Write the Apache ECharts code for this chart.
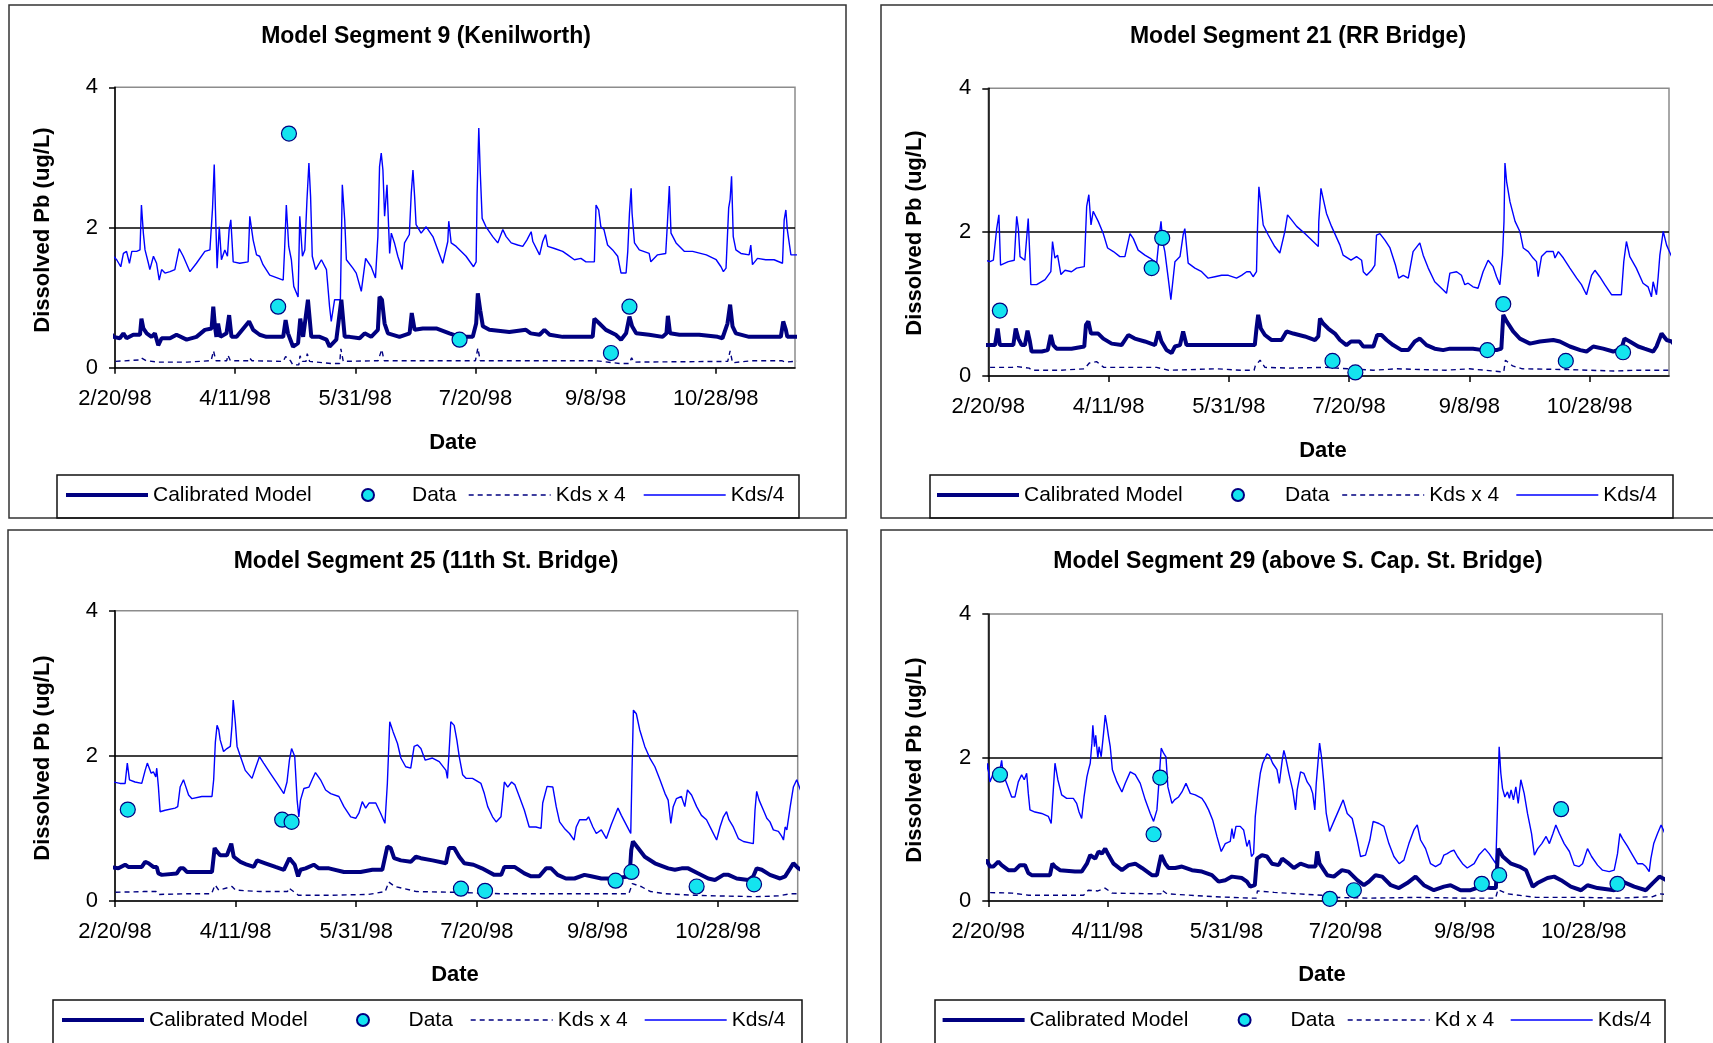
<!DOCTYPE html>
<html><head><meta charset="utf-8">
<script src="https://cdn.jsdelivr.net/npm/echarts@6/dist/echarts.min.js"></script>
<style>html,body{margin:0;padding:0;background:#fff}#c{width:1713px;height:1043px}</style>
</head><body><div id="c"></div>
<script>
// ---- tick labels / categories ----
const xTickDays = [0, 50, 100, 150, 200, 250];            // days after 2/20/98
const xTickLabels = ['2/20/98', '4/11/98', '5/31/98', '7/20/98', '9/8/98', '10/28/98'];
const titles = ['Model Segment 9 (Kenilworth)', 'Model Segment 21 (RR Bridge)', 'Model Segment 25 (11th St. Bridge)', 'Model Segment 29 (above S. Cap. St. Bridge)'];
const legendNames = ['Calibrated Model', 'Data', 'Kds x 4', 'Kds/4'];
const legendNames29 = ['Calibrated Model', 'Data', 'Kd x 4', 'Kds/4'];

// ---- Segment 9 (Kenilworth): [day, ug/L] ----
const seg9KdsDiv4 = [[-3.5,1.56],[-2,1.78],[-1.4,1.94],[-0.7,1.59],[0.7,1.54],[2.4,1.44],[3.5,1.63],[4.8,1.66],[6,1.49],[7,1.66],[9,1.66],[10.4,1.68],[11,2.32],[11.8,1.92],[12.5,1.68],[13.9,1.49],[14.5,1.40],[16,1.59],[17.3,1.49],[18.4,1.25],[19.4,1.40],[20.8,1.35],[22.9,1.37],[24.9,1.40],[26.7,1.70],[28.4,1.59],[31.2,1.37],[33.9,1.49],[37.4,1.66],[39.5,1.68],[40.6,2.28],[41.3,2.90],[41.8,2.25],[42.5,1.42],[43.4,2.01],[44.3,1.54],[45.7,1.68],[46.8,1.59],[47.5,1.97],[48.2,2.11],[49.2,1.51],[51.9,1.49],[55.4,1.51],[56.1,2.16],[57.5,1.82],[58.9,1.61],[60.2,1.59],[61.6,1.47],[64.4,1.32],[70,1.25],[70.6,1.70],[71.3,2.32],[72.3,1.73],[73.4,1.54],[74.4,1.16],[76.2,1.01],[76.9,2.16],[78,1.59],[79,1.68],[79.9,2.40],[80.7,2.92],[81.4,2.44],[82.1,1.59],[83.5,1.40],[85.9,1.54],[88,1.40],[89.3,0.87],[90,0.66],[91.4,0.97],[93.8,0.97],[94.6,2.61],[95.6,2.11],[96.3,1.54],[99,1.42],[100.4,1.35],[102.5,1.09],[104.3,1.56],[106.6,1.44],[108.4,1.28],[109.4,1.87],[110.1,2.87],[110.8,3.06],[111.5,2.82],[112.2,2.16],[113.2,2.61],[114.3,1.63],[115,1.92],[116.3,1.78],[117.7,1.59],[119.5,1.40],[120.5,1.78],[122.5,1.90],[123.3,2.49],[124,2.82],[124.7,2.44],[125.3,2.04],[127.4,1.92],[129.5,2.01],[132.3,1.87],[136.4,1.49],[138.5,1.80],[138.9,2.09],[139.9,1.78],[142,1.73],[146.1,1.59],[149.2,1.44],[150.3,1.51],[150.7,2.47],[151.4,3.42],[152,2.80],[152.8,2.13],[154.4,2.01],[157.2,1.87],[159.3,1.78],[161.4,1.97],[162.8,1.87],[164.9,1.78],[167.6,1.75],[169.7,1.73],[171.4,1.82],[173.2,1.94],[173.9,1.80],[176.7,1.61],[178,1.80],[179.2,1.90],[180.1,1.73],[182.9,1.70],[186.3,1.66],[188.4,1.61],[191.2,1.54],[193.9,1.56],[196,1.51],[199.5,1.51],[200.2,2.32],[201.3,2.25],[202.2,2.01],[203.5,1.97],[205,1.75],[207.1,1.68],[209.2,1.59],[210.6,1.35],[212.7,1.35],[213.4,1.66],[214.1,2.20],[214.8,2.56],[215.2,2.20],[216.2,1.78],[218.2,1.68],[222.3,1.63],[223,1.51],[225.8,1.61],[229.2,1.63],[229.9,2.06],[230.7,2.59],[231.4,1.92],[233.5,1.78],[236.9,1.66],[240.4,1.66],[246.1,1.61],[250.2,1.54],[252.2,1.44],[253.2,1.37],[254.3,1.42],[255.4,2.28],[256,2.40],[256.6,2.73],[257.3,1.87],[258.4,1.68],[260.5,1.63],[263.9,1.61],[264.6,1.75],[265.3,1.47],[267.4,1.56],[270.8,1.54],[274.3,1.54],[277.8,1.49],[278.5,2.11],[279.2,2.25],[279.8,1.97],[281.3,1.61],[286.5,1.61]];
const seg9Model = [[-3.5,0.44],[-2,0.51],[-0.7,0.44],[2,0.42],[3.5,0.49],[4.8,0.42],[7.6,0.47],[10.4,0.47],[11,0.70],[11.8,0.56],[13.2,0.49],[15.2,0.44],[16.6,0.49],[18,0.32],[19.4,0.42],[22.9,0.42],[25.6,0.47],[29.8,0.40],[33.9,0.44],[37.4,0.54],[40.2,0.56],[40.9,0.87],[41.6,0.59],[42.2,0.44],[42.9,0.63],[43.9,0.44],[46.4,0.49],[47.5,0.75],[48.5,0.44],[50.6,0.44],[55.8,0.66],[57.5,0.54],[60.2,0.47],[63,0.44],[70,0.44],[71,0.68],[72,0.49],[74.1,0.30],[76.2,0.35],[77.1,0.70],[78.3,0.44],[80.3,0.97],[81.7,0.44],[85.2,0.44],[88,0.40],[89.3,0.30],[92.1,0.40],[94.2,0.97],[95.6,0.44],[97.6,0.44],[101.8,0.42],[103.9,0.49],[106.6,0.44],[109.4,0.54],[110.1,1.01],[111.1,0.97],[112.2,0.63],[113.6,0.49],[118.4,0.44],[122.6,0.49],[123.5,0.78],[124.7,0.54],[128.1,0.56],[133.7,0.56],[139.2,0.49],[143.4,0.44],[148.9,0.44],[150.3,0.63],[151,1.06],[152,0.82],[153.1,0.59],[155.8,0.54],[164.1,0.51],[171,0.54],[173,0.49],[176.7,0.47],[178.7,0.54],[180.9,0.47],[186.3,0.44],[198.8,0.44],[199.5,0.70],[201.6,0.63],[204.3,0.54],[208.4,0.47],[210.6,0.40],[212.7,0.49],[214.1,0.73],[215.2,0.59],[216.9,0.49],[222.3,0.47],[227.9,0.44],[229.5,0.49],[230.1,0.74],[231,0.49],[234.9,0.47],[243.1,0.47],[250.8,0.44],[252.8,0.42],[254.9,0.63],[256,0.90],[257,0.59],[258.4,0.49],[263.9,0.44],[277.1,0.44],[278.1,0.66],[279.2,0.54],[279.8,0.44],[286.5,0.44]];
const seg9KdsX4 = [[-3.5,0.10],[0,0.09],[10,0.11],[11,0.14],[13,0.10],[18,0.08],[30,0.08],[40,0.10],[41,0.24],[42,0.10],[46.5,0.10],[47,0.18],[48,0.10],[55.5,0.10],[56,0.14],[57,0.10],[70,0.09],[71,0.16],[73,0.10],[74,0.04],[76.5,0.04],[77,0.17],[78,0.09],[79.5,0.09],[80,0.20],[81,0.09],[90,0.06],[93.5,0.06],[94,0.27],[95,0.09],[109.5,0.10],[110,0.12],[111,0.26],[112,0.10],[150,0.10],[151,0.28],[152,0.10],[200,0.10],[210,0.06],[214,0.06],[215,0.14],[216,0.08],[255,0.09],[256,0.24],[257,0.07],[265,0.10],[277.5,0.10],[278,0.12],[279,0.08],[286.5,0.10]];
const seg9Data = [[67.9,0.87],[72.4,3.34],[143.4,0.40],[206.4,0.21],[214.1,0.87]];

// ---- Segment 21 (RR Bridge) ----
const seg21KdsDiv4 = [[-3,1.65],[-2.1,1.98],[-1.4,1.61],[0.7,1.59],[2.1,1.61],[3.5,2.05],[4.4,2.24],[5.1,1.54],[8.3,1.59],[10.8,1.61],[11.8,2.22],[12.5,2.05],[13.2,1.66],[15.2,1.61],[16.6,2.19],[17.3,1.64],[17.7,1.27],[20.1,1.27],[23.6,1.34],[26,1.45],[26.7,1.87],[27.7,1.64],[28.8,1.68],[30.2,1.41],[31.9,1.47],[34.6,1.45],[36.7,1.50],[39.9,1.52],[40.9,2.36],[41.8,2.52],[42.7,2.10],[43.6,2.29],[45.7,2.15],[47.8,1.98],[49.6,1.78],[52,1.73],[54.7,1.66],[56.8,1.66],[58.9,1.98],[60.3,1.91],[62.3,1.75],[65.1,1.68],[67.2,1.64],[70,1.57],[71.3,2.01],[71.8,2.15],[72.5,1.87],[73.4,1.73],[74.8,1.36],[75.9,1.06],[77.6,1.59],[79.7,1.66],[81,1.96],[81.7,2.05],[83.1,1.57],[85.9,1.50],[88.7,1.45],[91.4,1.36],[94.2,1.38],[97,1.40],[99.8,1.40],[103.2,1.36],[105.3,1.40],[107.4,1.45],[108.8,1.45],[110.1,1.38],[111.5,1.45],[111.9,2.03],[112.5,2.63],[113.3,2.40],[114.3,2.10],[116.4,1.96],[119.1,1.80],[121.2,1.71],[123.3,2.01],[124.4,2.24],[126.1,2.17],[128.2,2.08],[131.6,1.98],[134.4,1.89],[137.2,1.80],[137.4,2.15],[138.3,2.61],[139.2,2.47],[140.6,2.26],[142.7,2.08],[146.2,1.82],[147.5,1.68],[150.8,1.61],[153.1,1.66],[155.2,1.61],[155.9,1.45],[157.3,1.40],[159.3,1.47],[160.7,1.54],[161.4,1.96],[162.8,1.98],[164.9,1.89],[167,1.78],[169.3,1.54],[170.6,1.36],[172.5,1.40],[174.6,1.36],[176.6,1.73],[179.4,1.85],[180.8,1.68],[182.9,1.50],[185.6,1.31],[188.4,1.22],[190.5,1.15],[191.9,1.43],[194.7,1.45],[196.7,1.40],[198.1,1.27],[199.5,1.29],[201.5,1.24],[203.6,1.22],[205.7,1.45],[207.8,1.61],[209.9,1.52],[211.3,1.38],[212.7,1.27],[213.8,1.68],[214.4,2.15],[214.8,2.96],[215.5,2.70],[216.9,2.42],[219,2.15],[221,2.01],[222.4,1.78],[224.5,1.73],[226.5,1.64],[227.9,1.59],[228.6,1.38],[230,1.66],[232.1,1.73],[234.9,1.73],[235.6,1.64],[237,1.73],[239.1,1.64],[241.8,1.50],[244.6,1.36],[246.6,1.27],[248.7,1.13],[250.8,1.40],[252.2,1.47],[254.2,1.38],[256.3,1.27],[259.1,1.13],[263.2,1.13],[264.2,1.59],[265.3,1.87],[266.7,1.66],[269.4,1.50],[272.2,1.29],[274.3,1.24],[275.7,1.10],[276.4,1.31],[277.8,1.13],[278.5,1.38],[279.2,1.68],[280.6,2.01],[282,1.82],[284.1,1.66],[286.5,1.47]];
const seg21Model = [[-3,0.48],[-2.5,0.59],[-1.7,0.43],[2.8,0.43],[3.9,0.66],[4.8,0.43],[10.4,0.43],[11.4,0.66],[12.5,0.52],[13.9,0.43],[15.2,0.43],[16.3,0.63],[17.3,0.48],[18,0.34],[22.2,0.34],[24.7,0.36],[26,0.57],[27,0.43],[28.4,0.38],[34.6,0.38],[39.9,0.41],[40.6,0.71],[41.6,0.76],[42.7,0.59],[45.7,0.59],[47.8,0.52],[51.3,0.45],[55.4,0.43],[58.2,0.57],[60.9,0.52],[65.1,0.48],[69.3,0.43],[70.7,0.62],[72,0.48],[74.1,0.36],[76.2,0.32],[77.6,0.41],[79.7,0.43],[81,0.62],[82.4,0.43],[110.8,0.43],[111.5,0.66],[112.2,0.85],[113.3,0.66],[115,0.57],[117.8,0.50],[121.9,0.50],[124,0.62],[126.8,0.59],[131.6,0.55],[135.8,0.50],[137.2,0.55],[137.9,0.80],[139.2,0.73],[141.3,0.66],[144.1,0.59],[146.2,0.50],[148.9,0.43],[150.8,0.48],[154.3,0.48],[155.9,0.41],[160.1,0.41],[161.7,0.57],[163.5,0.57],[165.6,0.50],[168.3,0.43],[171.8,0.36],[174.6,0.36],[177.3,0.48],[179.4,0.52],[182.2,0.43],[185.6,0.38],[189.1,0.36],[191.9,0.38],[201.5,0.38],[205.7,0.36],[211.3,0.36],[213.3,0.38],[214.1,0.85],[215.5,0.76],[218.2,0.62],[221,0.52],[225.2,0.45],[229.3,0.48],[234.9,0.50],[237.6,0.48],[241.8,0.41],[246.1,0.36],[248.7,0.34],[251.5,0.41],[255.6,0.38],[259.8,0.34],[263.2,0.38],[264.5,0.52],[266.7,0.48],[270.2,0.41],[272.8,0.38],[276.4,0.34],[277.8,0.41],[279.9,0.59],[282,0.50],[284.1,0.48],[286.5,0.38]];
const seg21KdsX4 = [[-3,0.12],[10,0.12],[12,0.13],[17,0.11],[18,0.08],[30,0.08],[40,0.10],[42,0.18],[45,0.20],[48,0.12],[70,0.12],[75,0.08],[95,0.10],[105,0.08],[110.5,0.08],[111,0.14],[113,0.22],[115,0.12],[125,0.11],[140,0.12],[150,0.10],[160,0.08],[170,0.10],[190,0.08],[200,0.10],[213,0.06],[214.3,0.06],[215,0.22],[218,0.14],[222,0.10],[240,0.09],[250,0.08],[260,0.07],[270,0.08],[286.5,0.08]];
const seg21Data = [[4.8,0.91],[67.9,1.50],[72.3,1.92],[143.1,0.21],[152.6,0.05],[207.5,0.36],[214.1,1.00],[240.1,0.21],[263.9,0.33]];

// ---- Segment 25 (11th St. Bridge) ----
const seg25KdsDiv4 = [[-3.5,1.60],[-2.5,1.78],[-1.7,1.85],[-0.7,1.64],[2.1,1.62],[4.2,1.62],[5.1,1.90],[6,1.67],[8.3,1.64],[11.1,1.62],[12.5,1.80],[13.4,1.90],[15,1.76],[15.9,1.78],[16.9,1.71],[17.3,1.83],[18,1.57],[18.7,1.23],[20.8,1.25],[24.9,1.28],[26,1.30],[27,1.57],[28.4,1.67],[29.1,1.60],[30.5,1.46],[31.9,1.41],[36,1.44],[40.2,1.44],[40.9,1.67],[41.6,2.19],[42.3,2.42],[43,2.36],[43.6,2.22],[45,2.06],[46.4,2.10],[47.8,2.13],[48.5,2.42],[49,2.77],[49.9,2.45],[50.6,2.13],[52,1.99],[54,1.80],[56.8,1.69],[58.2,1.83],[59.9,1.99],[61.6,1.90],[64.4,1.76],[67.2,1.62],[70,1.48],[71.3,1.64],[72.3,1.94],[73.2,2.10],[73.7,2.06],[74.5,1.99],[75.5,1.39],[76.2,1.16],[76.9,1.39],[78.3,1.55],[80.4,1.57],[81.7,1.67],[83.1,1.77],[85.2,1.67],[87.3,1.53],[89.4,1.48],[92.8,1.44],[94.9,1.30],[97.7,1.16],[99.8,1.14],[101.1,1.21],[102.5,1.37],[103.9,1.28],[105.3,1.35],[108.1,1.35],[110.1,1.21],[111.9,1.07],[112.9,1.62],[113.9,2.47],[115.3,2.33],[117.1,2.17],[118.5,1.97],[120.5,1.85],[122.6,1.83],[124,2.13],[125.4,2.15],[126.8,2.10],[128.6,1.94],[131.6,1.97],[134.4,1.92],[137.2,1.80],[137.8,1.69],[138.5,2.06],[139.2,2.47],[140.6,2.42],[141.7,2.22],[142.7,1.99],[144.1,1.74],[145.5,1.69],[148.2,1.69],[151.7,1.62],[153.1,1.48],[154.5,1.30],[156.5,1.16],[158,1.09],[160,1.16],[160.7,1.39],[161.4,1.64],[162.8,1.57],[164.4,1.64],[165.8,1.60],[167.6,1.44],[169.7,1.25],[171.7,1.02],[174.5,1.02],[176.6,1.00],[177.3,1.35],[179.1,1.58],[181.5,1.57],[182.9,1.30],[184.3,1.09],[186.3,1.00],[188.4,0.93],[190.3,0.84],[191.2,1.02],[192.6,1.12],[195.4,1.12],[196.3,1.16],[198.1,1.02],[199.5,0.93],[201.6,0.98],[203.7,0.86],[205.7,1.05],[208.5,1.28],[209.9,1.18],[211.3,1.09],[212.7,1.00],[213.8,0.93],[214.3,1.76],[214.9,2.63],[216.1,2.58],[217.5,2.36],[219.6,2.13],[221.7,1.97],[223.8,1.85],[225.9,1.67],[228,1.48],[229.3,1.39],[230.4,1.07],[231.4,1.30],[232.7,1.41],[234.8,1.44],[236.2,1.30],[237.3,1.53],[239,1.46],[241.1,1.30],[243.1,1.18],[245.2,1.12],[247.3,0.98],[249.4,0.84],[250.8,1.02],[252.2,1.16],[253.5,1.23],[254.5,1.12],[256.3,1.02],[258.4,0.86],[260.5,0.82],[264.6,0.79],[265.3,1.25],[266,1.51],[267,1.39],[268.8,1.25],[270.2,1.14],[271.5,1.09],[272.9,0.98],[275,0.96],[276.4,0.89],[277.1,0.84],[277.8,1.02],[278.5,0.98],[279.9,1.30],[281.2,1.57],[282.6,1.67],[284.7,1.48],[287.2,1.23]];
const seg25Model = [[-3.5,0.50],[-2.8,0.54],[-2.1,0.47],[1.4,0.45],[4.2,0.50],[5.5,0.47],[11.1,0.47],[12.5,0.54],[13.9,0.52],[15.9,0.47],[17.3,0.47],[18,0.38],[19.4,0.36],[25.6,0.38],[27,0.45],[28.4,0.45],[29.8,0.40],[40.2,0.40],[41.3,0.73],[42.3,0.68],[43.6,0.63],[46.4,0.63],[48.2,0.79],[49.2,0.61],[52,0.54],[54.7,0.50],[57.5,0.47],[58.9,0.56],[62.3,0.52],[66.5,0.47],[70,0.43],[72.3,0.59],[74.5,0.50],[75.9,0.34],[76.9,0.43],[79,0.45],[82.4,0.50],[84.5,0.45],[88.7,0.45],[94.9,0.40],[101.8,0.40],[106.7,0.43],[110.8,0.43],[112.9,0.75],[114.3,0.73],[115.7,0.59],[118.5,0.56],[122.6,0.54],[124.7,0.61],[126.8,0.59],[131.6,0.56],[137.2,0.52],[138.5,0.73],[140.6,0.73],[142.7,0.61],[144.8,0.52],[148.6,0.50],[152.1,0.45],[157.2,0.36],[160.1,0.36],[161.4,0.47],[165.6,0.47],[169.7,0.38],[172.5,0.34],[175.9,0.34],[178.7,0.45],[180.8,0.45],[183.5,0.36],[186.9,0.31],[190.5,0.31],[194.6,0.36],[197.4,0.34],[201.6,0.31],[207.1,0.31],[213.3,0.34],[214,0.70],[214.7,0.82],[216.8,0.73],[219.6,0.61],[223.8,0.52],[229.3,0.45],[232.1,0.43],[234.9,0.45],[237.6,0.45],[241.8,0.38],[245.9,0.31],[248.7,0.29],[252.2,0.36],[254.3,0.36],[257.7,0.31],[262.5,0.29],[264.6,0.34],[266,0.45],[268.1,0.43],[271.5,0.36],[275.7,0.31],[277.8,0.34],[279.9,0.45],[281.2,0.52],[283.3,0.45],[287.2,0.38]];
const seg25KdsX4 = [[-3.5,0.13],[0,0.12],[12,0.13],[17,0.13],[18,0.09],[30,0.10],[40,0.10],[41.5,0.22],[43,0.15],[48.5,0.20],[50,0.15],[60,0.13],[71.5,0.13],[72,0.18],[74,0.13],[76,0.08],[90,0.08],[105,0.09],[112,0.13],[113.5,0.26],[116,0.20],[125,0.13],[140,0.12],[150,0.11],[160,0.10],[180,0.10],[200,0.10],[213,0.10],[214.5,0.24],[218,0.20],[222,0.13],[228,0.10],[240,0.08],[250,0.07],[265,0.06],[275,0.07],[280,0.10],[287.2,0.10]];
const seg25Data = [[5.3,1.26],[69.3,1.12],[73.2,1.09],[143.4,0.17],[153.4,0.14],[207.5,0.28],[214.1,0.40],[241.1,0.20],[264.9,0.23]];

// ---- Segment 29 (above S. Cap. St. Bridge) ----
const seg29KdsDiv4 = [[-3.1,1.31],[-2.1,1.45],[-1.1,1.73],[-0.3,1.92],[0.7,1.66],[2.1,1.78],[3.5,1.69],[4.9,1.83],[5.6,1.96],[6.3,1.76],[7.7,1.64],[9.8,1.45],[11.2,1.45],[12.6,1.66],[14,1.76],[15.1,1.69],[16.1,1.78],[16.8,1.50],[17.5,1.27],[19.6,1.24],[22.4,1.22],[25.2,1.18],[26.4,1.08],[27.3,1.55],[28,1.92],[29.2,1.69],[30.8,1.48],[32.9,1.43],[35.7,1.43],[37.1,1.36],[38.1,1.24],[39.2,1.15],[40.2,1.45],[41.4,1.73],[42.1,1.83],[42.8,1.92],[43.5,2.20],[43.9,2.45],[44.6,2.15],[45.1,2.31],[46,1.99],[46.5,2.15],[47.4,2.01],[48.4,2.34],[49.1,2.59],[49.8,2.45],[50.5,2.29],[51.2,2.15],[52.1,1.83],[54,1.66],[56.1,1.52],[57.5,1.64],[59.6,1.80],[61.7,1.76],[63.8,1.64],[65.9,1.41],[68,1.22],[69.4,1.11],[70.8,1.27],[71.5,1.59],[72.6,2.13],[73.6,2.06],[74.6,2.01],[75.4,1.59],[77.1,1.36],[78.2,1.41],[79.9,1.45],[81.3,1.52],[83,1.64],[84.8,1.50],[86.9,1.48],[89.7,1.43],[91.1,1.36],[92.5,1.27],[94.2,1.13],[96,0.90],[97.8,0.69],[99.5,0.80],[101.6,0.83],[102.3,1.01],[103,0.87],[104,1.04],[105.8,1.04],[107.2,0.99],[108.6,0.76],[109.6,0.85],[110.5,0.62],[111.4,0.66],[112.1,1.18],[113.3,1.55],[114.2,1.78],[115.2,1.92],[117,2.05],[118,2.03],[119.4,1.92],[121.2,1.83],[122.2,1.64],[123.4,1.96],[124.1,2.10],[124.8,2.01],[126.2,1.78],[127.8,1.55],[129,1.27],[129.7,1.55],[131.1,1.80],[132.5,1.78],[133.9,1.66],[135.3,1.59],[136.2,1.50],[137.1,1.27],[137.7,1.64],[138.5,1.96],[139.1,2.20],[139.9,2.01],[140.9,1.64],[141.9,1.22],[143.3,0.97],[145.1,1.11],[147.2,1.27],[149,1.41],[150.7,1.22],[152.8,1.15],[154.9,0.85],[156.3,0.62],[158.4,0.64],[160.2,0.85],[161.6,1.11],[164,1.08],[166.1,1.04],[168.2,0.80],[170.3,0.62],[172.5,0.52],[174.5,0.57],[176.6,0.80],[178.7,0.99],[180.1,1.06],[181.5,0.85],[183.6,0.73],[185.7,0.52],[187.8,0.48],[189.9,0.52],[191.3,0.64],[192.7,0.66],[194.1,0.69],[195.5,0.71],[197,0.62],[199.1,0.52],[201.1,0.46],[204,0.52],[206,0.64],[208.5,0.73],[210.3,0.66],[211.7,0.59],[213.1,0.52],[213.8,1.31],[214.5,2.15],[215.2,1.78],[215.9,1.57],[216.9,1.45],[218,1.52],[218.8,1.43],[219.5,1.55],[220.5,1.41],[221.5,1.59],[222.5,1.36],[223.6,1.69],[225,1.50],[226.4,1.22],[228.1,0.94],[229.3,0.64],[230.7,0.73],[232.4,0.80],[234.2,0.90],[235.6,0.80],[237.1,0.94],[238.3,1.06],[239.8,0.94],[241.8,0.80],[244,0.69],[246,0.50],[248.1,0.48],[249.5,0.52],[251.6,0.73],[253.3,0.62],[255.8,0.50],[257.9,0.43],[260.7,0.41],[262.8,0.43],[264.2,0.66],[265.2,0.94],[266.3,0.87],[268.4,0.76],[270.5,0.64],[272.6,0.52],[274.7,0.52],[276.1,0.48],[277.5,0.41],[278.2,0.59],[279.4,0.80],[281,0.94],[282.5,1.06],[284.6,0.90],[287.4,0.66]];
const seg29Model = [[-3.1,0.43],[-2.1,0.50],[-0.7,0.57],[0.7,0.48],[2.1,0.48],[4.2,0.55],[5.6,0.50],[8.4,0.43],[11.2,0.43],[13.3,0.50],[15.4,0.50],[16.8,0.39],[18.2,0.36],[25.9,0.36],[26.9,0.52],[28,0.48],[30.1,0.43],[36.4,0.41],[39.2,0.41],[41.4,0.52],[42.8,0.64],[44.9,0.59],[46.3,0.69],[47.7,0.66],[49.1,0.73],[50.5,0.64],[52.6,0.52],[56.1,0.43],[58.9,0.50],[61.7,0.52],[64.5,0.46],[68.7,0.36],[70.8,0.36],[71.8,0.52],[72.6,0.64],[74.3,0.52],[75.7,0.46],[78.5,0.46],[81.3,0.48],[85.5,0.43],[89.7,0.41],[93.9,0.36],[96.7,0.27],[99.5,0.29],[102.3,0.34],[106.5,0.32],[108.6,0.27],[110,0.20],[111.9,0.22],[112.8,0.59],[114.9,0.64],[117,0.62],[119.1,0.52],[121.9,0.50],[123.4,0.59],[126.2,0.52],[128.3,0.46],[131.1,0.52],[134.6,0.48],[137.4,0.48],[138.1,0.69],[139.1,0.52],[140.9,0.43],[142.3,0.36],[145.1,0.34],[148.5,0.43],[151.3,0.41],[154.9,0.29],[157.7,0.22],[159.8,0.27],[162.6,0.36],[165.4,0.34],[169,0.22],[172.4,0.18],[175.9,0.25],[179.4,0.34],[182.9,0.22],[187.1,0.15],[191.3,0.20],[194.1,0.22],[198.3,0.15],[202.5,0.15],[206.7,0.20],[211,0.18],[213.1,0.18],[214.1,0.73],[216,0.62],[219.5,0.52],[223,0.48],[225.8,0.43],[228.6,0.20],[230.6,0.25],[234.8,0.32],[237.6,0.34],[240.5,0.29],[244.6,0.20],[248.9,0.15],[251.6,0.22],[255.8,0.18],[262.8,0.15],[266.3,0.27],[271.2,0.20],[276.1,0.15],[279,0.25],[281.8,0.34],[284.6,0.29],[287.4,0.20]];
const seg29KdX4 = [[-3,0.12],[10,0.11],[17,0.08],[40,0.08],[42,0.15],[46,0.14],[49,0.18],[52,0.11],[70,0.10],[72.5,0.10],[73,0.15],[75,0.10],[95,0.06],[110,0.04],[112.5,0.04],[113,0.14],[120,0.12],[130,0.10],[140,0.08],[145,0.05],[160,0.04],[180,0.05],[200,0.04],[213,0.04],[214,0.16],[218,0.10],[230,0.05],[250,0.05],[265,0.04],[279,0.06],[282,0.10],[287.4,0.08]];
const seg29Data = [[4.9,1.76],[69.4,0.93],[72.2,1.72],[143.4,0.03],[153.5,0.15],[207.2,0.24],[214.5,0.36],[240.5,1.28],[264.2,0.24]];

// ---- assembly ----
const FONT = '"Liberation Sans", Arial, sans-serif';
const panels = [
  {model: seg9Model,  data: seg9Data,  kx4: seg9KdsX4,  kd4: seg9KdsDiv4,  names: legendNames},
  {model: seg21Model, data: seg21Data, kx4: seg21KdsX4, kd4: seg21KdsDiv4, names: legendNames},
  {model: seg25Model, data: seg25Data, kx4: seg25KdsX4, kd4: seg25KdsDiv4, names: legendNames},
  {model: seg29Model, data: seg29Data, kx4: seg29KdX4,  kd4: seg29KdsDiv4, names: legendNames29}
];
// legend: lefts of [model, data, kx4, kd4]; dataPad = gap between data marker and its text
const layout = [
  {grid:{left:115, top:87.3, width:680, height:280.4}, box:[9,5,837,513], lbox:[57,475,742,43], ltop:484, lefts:[64,361,468,643], dataPad:33, tpos:[426,37], ypos:[43,230], dpos:[453,443]},
  {grid:{left:988.3, top:88.3, width:680.7, height:287.7}, box:[881,5,840,513], lbox:[930,475,743,43], ltop:484, lefts:[935,1231,1341.5,1515.6], dataPad:36, tpos:[1298,37], ypos:[915,233], dpos:[1323,451]},
  {grid:{left:115, top:610.7, width:682.7, height:290.3}, box:[8,530,839,530], lbox:[53,1000,749,60], ltop:1009, lefts:[60,356,470,644], dataPad:34.5, tpos:[426,562], ypos:[43,758], dpos:[455,975]},
  {grid:{left:988.3, top:614, width:674, height:287}, box:[881,530,840,530], lbox:[935,1000,730,60], ltop:1009, lefts:[940.6,1237.6,1347,1510], dataPad:35, tpos:[1298,562], ypos:[915,760], dpos:[1322,975]}
];

const option = {animation:false, backgroundColor:'#ffffff', grid:[], xAxis:[], yAxis:[], series:[], legend:[], graphic:[]};
const legendText = {fontSize:21, fontFamily:FONT, color:'#000', lineHeight:22};
const hiddenSym = {color:'rgba(0,0,0,0)', borderColor:'rgba(0,0,0,0)', borderWidth:0, opacity:0};

panels.forEach((p, i) => {
  const L = layout[i];
  option.grid.push(Object.assign({show:true, borderColor:'#8c8c8c', borderWidth:1.5, backgroundColor:'rgba(0,0,0,0)'}, L.grid));
  option.xAxis.push({
    type:'value', gridIndex:i, min:0, max:283, interval:50,
    axisLine:{show:true, onZero:false, lineStyle:{color:'#000', width:1.5}},
    axisTick:{show:true, length:6, customValues:xTickDays, lineStyle:{color:'#000', width:1.5}},
    axisLabel:{customValues:xTickDays, margin:20, color:'#000', fontSize:22, fontFamily:FONT,
      formatter: v => { const k = xTickDays.indexOf(v); return k >= 0 ? xTickLabels[k] : ''; }},
    splitLine:{show:false}
  });
  option.yAxis.push({
    type:'value', gridIndex:i, min:0, max:4, interval:2,
    axisLine:{show:true, onZero:false, lineStyle:{color:'#000', width:1.5}},
    axisTick:{show:true, length:6, lineStyle:{color:'#000', width:1.5}},
    axisLabel:{margin:17, color:'#000', fontSize:22, fontFamily:FONT},
    splitLine:{show:true, lineStyle:{color:['rgba(0,0,0,0)', '#000', 'rgba(0,0,0,0)'], width:1.5}}
  });
  option.series.push(
    {type:'line', name:p.names[3], xAxisIndex:i, yAxisIndex:i, data:p.kd4, symbol:'none', clip:false, z:2,
     lineStyle:{color:'#0000ff', width:1.4}, itemStyle:{color:'#0000ff'}},
    {type:'line', name:p.names[2], xAxisIndex:i, yAxisIndex:i, data:p.kx4, symbol:'none', clip:false, z:2,
     lineStyle:{color:'#000080', width:1.4, type:[5,4]}, itemStyle:{color:'#000080'}},
    {type:'line', name:p.names[0], xAxisIndex:i, yAxisIndex:i, data:p.model, symbol:'none', clip:false, z:3,
     lineStyle:{color:'#000080', width:4}, itemStyle:{color:'#000080'}},
    {type:'scatter', name:p.names[1], xAxisIndex:i, yAxisIndex:i, data:p.data, symbol:'circle', symbolSize:15, z:5,
     itemStyle:{color:'#14e4ef', borderColor:'#000080', borderWidth:1.2, opacity:1}}
  );
  const lineW = [4, 0, 1.4, 1.4];
  p.names.forEach((n, k) => {
    if (k === 1) {
      option.legend.push({data:[n], left:L.lefts[k], top:L.ltop, padding:0, itemWidth:12, itemHeight:12, itemGap:0,
        selectedMode:false, textStyle:Object.assign({padding:[0,0,0,L.dataPad]}, legendText)});
    } else {
      option.legend.push({data:[n], left:L.lefts[k], top:L.ltop, padding:0, itemWidth:82, itemHeight:12, itemGap:0,
        selectedMode:false, itemStyle:hiddenSym, lineStyle:{width:lineW[k]}, textStyle:legendText});
    }
  });
  option.graphic.push(
    {type:'rect', silent:true, z:-1, shape:{x:L.box[0], y:L.box[1], width:L.box[2], height:L.box[3]},
     style:{fill:'rgba(0,0,0,0)', stroke:'#333', lineWidth:1.5}},
    {type:'rect', silent:true, z:-1, shape:{x:L.lbox[0], y:L.lbox[1], width:L.lbox[2], height:L.lbox[3]},
     style:{fill:'rgba(0,0,0,0)', stroke:'#111', lineWidth:1.5}},
    {type:'text', silent:true, x:L.tpos[0], y:L.tpos[1],
     style:{text:titles[i], font:'bold 23px ' + FONT, fill:'#000', align:'center', verticalAlign:'middle', textAlign:'center', textVerticalAlign:'middle'}},
    {type:'text', silent:true, x:L.ypos[0], y:L.ypos[1], rotation:Math.PI/2,
     style:{text:'Dissolved Pb (ug/L)', font:'bold 22px ' + FONT, fill:'#000', align:'center', verticalAlign:'middle', textAlign:'center', textVerticalAlign:'middle'}},
    {type:'text', silent:true, x:L.dpos[0], y:L.dpos[1],
     style:{text:'Date', font:'bold 22px ' + FONT, fill:'#000', align:'center', verticalAlign:'middle', textAlign:'center', textVerticalAlign:'middle'}}
  );
});

const chart = echarts.init(document.getElementById('c'), null, {renderer:'canvas'});
chart.setOption(option);
</script>
</body></html>
